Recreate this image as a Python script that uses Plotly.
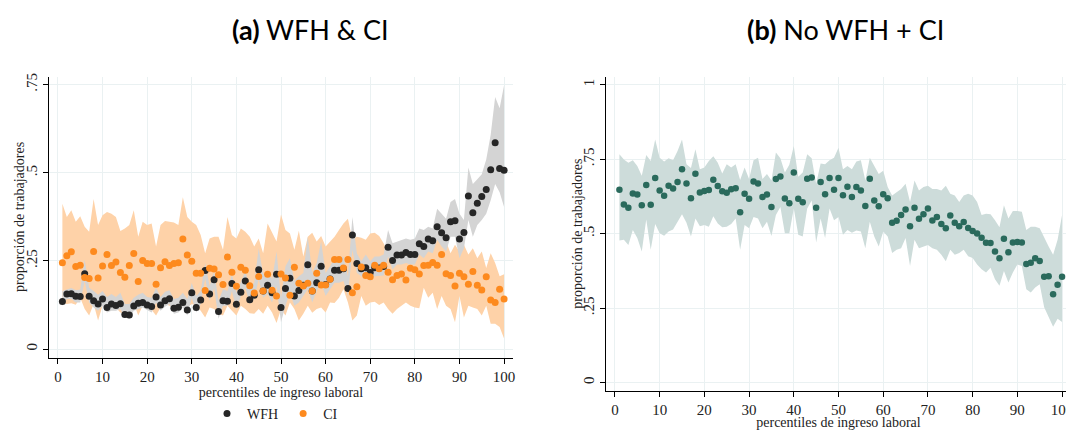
import plotly.graph_objects as go

percentiles = list(range(1, 101))

wfh = [0.135, 0.156, 0.157, 0.150, 0.149, 0.214, 0.150, 0.137, 0.128, 0.142,
       0.118, 0.128, 0.124, 0.129, 0.098, 0.097, 0.122, 0.130, 0.132, 0.125,
       0.121, 0.148, 0.125, 0.137, 0.143, 0.116, 0.119, 0.132, 0.111, 0.160,
       0.118, 0.139, 0.223, 0.156, 0.197, 0.107, 0.137, 0.136, 0.186, 0.127,
       0.161, 0.193, 0.140, 0.153, 0.225, 0.165, 0.181, 0.160, 0.212, 0.118,
       0.172, 0.201, 0.151, 0.166, 0.181, 0.239, 0.165, 0.188, 0.235, 0.183,
       0.199, 0.224, 0.224, 0.228, 0.172, 0.324, 0.243, 0.228, 0.231, 0.217,
       0.231, 0.230, 0.234, 0.289, 0.251, 0.267, 0.267, 0.274, 0.268, 0.268,
       0.299, 0.291, 0.312, 0.307, 0.347, 0.330, 0.316, 0.361, 0.364, 0.312,
       0.331, 0.434, 0.387, 0.414, 0.433, 0.453, 0.509, 0.585, 0.512, 0.507]
wfh_hi = [0.165, 0.170, 0.173, 0.167, 0.169, 0.254, 0.174, 0.165, 0.154, 0.165,
          0.148, 0.156, 0.148, 0.160, 0.128, 0.128, 0.146, 0.154, 0.160, 0.148,
          0.146, 0.174, 0.148, 0.163, 0.167, 0.142, 0.146, 0.160, 0.142, 0.188,
          0.151, 0.165, 0.244, 0.179, 0.221, 0.137, 0.170, 0.165, 0.212, 0.160,
          0.193, 0.221, 0.174, 0.188, 0.286, 0.212, 0.221, 0.198, 0.277, 0.146,
          0.235, 0.258, 0.193, 0.207, 0.216, 0.319, 0.216, 0.244, 0.305, 0.216,
          0.235, 0.258, 0.258, 0.263, 0.207, 0.375, 0.272, 0.249, 0.268, 0.249,
          0.263, 0.263, 0.268, 0.338, 0.300, 0.305, 0.310, 0.314, 0.310, 0.314,
          0.342, 0.338, 0.347, 0.342, 0.398, 0.384, 0.370, 0.417, 0.426, 0.384,
          0.366, 0.515, 0.468, 0.482, 0.496, 0.538, 0.608, 0.715, 0.683, 0.748]
wfh_lo = [0.123, 0.142, 0.142, 0.132, 0.132, 0.193, 0.132, 0.118, 0.109, 0.123,
          0.104, 0.109, 0.109, 0.114, 0.090, 0.086, 0.109, 0.114, 0.118, 0.111,
          0.104, 0.132, 0.109, 0.120, 0.128, 0.100, 0.104, 0.118, 0.095, 0.145,
          0.104, 0.128, 0.200, 0.137, 0.173, 0.086, 0.123, 0.123, 0.165, 0.111,
          0.151, 0.174, 0.128, 0.142, 0.198, 0.146, 0.156, 0.132, 0.179, 0.076,
          0.123, 0.160, 0.123, 0.132, 0.151, 0.170, 0.132, 0.165, 0.188, 0.151,
          0.170, 0.188, 0.188, 0.193, 0.151, 0.282, 0.216, 0.207, 0.207, 0.193,
          0.207, 0.207, 0.209, 0.263, 0.226, 0.240, 0.240, 0.244, 0.240, 0.240,
          0.268, 0.258, 0.277, 0.272, 0.310, 0.291, 0.277, 0.319, 0.319, 0.258,
          0.286, 0.366, 0.319, 0.352, 0.366, 0.384, 0.422, 0.468, 0.445, 0.403]

ci = [0.245, 0.265, 0.276, 0.234, 0.238, 0.203, 0.200, 0.277, 0.202, 0.236,
      0.268, 0.237, 0.247, 0.217, 0.204, 0.237, 0.271, 0.192, 0.251, 0.243,
      0.243, 0.184, 0.231, 0.248, 0.237, 0.243, 0.245, 0.312, 0.267, 0.249,
      0.215, 0.215, 0.166, 0.229, 0.227, 0.211, 0.183, 0.261, 0.218, 0.178,
      0.232, 0.224, 0.180, 0.159, 0.206, 0.165, 0.212, 0.167, 0.151, 0.213,
      0.202, 0.153, 0.232, 0.187, 0.179, 0.187, 0.165, 0.215, 0.182, 0.182,
      0.198, 0.254, 0.254, 0.230, 0.254, 0.160, 0.177, 0.233, 0.209, 0.205,
      0.238, 0.228, 0.238, 0.218, 0.197, 0.209, 0.213, 0.196, 0.229, 0.225,
      0.213, 0.237, 0.238, 0.246, 0.238, 0.268, 0.214, 0.209, 0.179, 0.215,
      0.205, 0.184, 0.220, 0.181, 0.168, 0.205, 0.139, 0.132, 0.170, 0.142]
ci_hi = [0.412, 0.375, 0.394, 0.361, 0.377, 0.347, 0.333, 0.426, 0.352, 0.380,
         0.389, 0.384, 0.375, 0.335, 0.342, 0.352, 0.394, 0.319, 0.361, 0.352,
         0.356, 0.291, 0.352, 0.363, 0.361, 0.359, 0.352, 0.431, 0.375, 0.361,
         0.352, 0.324, 0.272, 0.314, 0.319, 0.319, 0.282, 0.375, 0.324, 0.314,
         0.342, 0.333, 0.319, 0.291, 0.314, 0.272, 0.356, 0.328, 0.305, 0.382,
         0.338, 0.328, 0.282, 0.336, 0.263, 0.319, 0.330, 0.305, 0.321, 0.291,
         0.305, 0.319, 0.338, 0.356, 0.370, 0.310, 0.319, 0.316, 0.310, 0.328,
         0.330, 0.321, 0.300, 0.272, 0.277, 0.274, 0.282, 0.263, 0.258, 0.254,
         0.286, 0.296, 0.282, 0.319, 0.314, 0.328, 0.305, 0.272, 0.296, 0.277,
         0.296, 0.268, 0.286, 0.258, 0.277, 0.230, 0.272, 0.244, 0.207, 0.212]
ci_lo = [0.132, 0.128, 0.130, 0.126, 0.146, 0.114, 0.095, 0.128, 0.081, 0.123,
         0.114, 0.118, 0.117, 0.104, 0.100, 0.104, 0.130, 0.095, 0.123, 0.118,
         0.111, 0.095, 0.118, 0.128, 0.123, 0.118, 0.123, 0.142, 0.118, 0.128,
         0.123, 0.109, 0.090, 0.118, 0.114, 0.100, 0.095, 0.123, 0.109, 0.095,
         0.123, 0.114, 0.102, 0.100, 0.114, 0.100, 0.123, 0.104, 0.074, 0.114,
         0.095, 0.132, 0.114, 0.081, 0.100, 0.123, 0.103, 0.114, 0.118, 0.104,
         0.132, 0.131, 0.146, 0.170, 0.132, 0.081, 0.095, 0.151, 0.123, 0.132,
         0.134, 0.125, 0.132, 0.114, 0.100, 0.114, 0.123, 0.132, 0.123, 0.118,
         0.116, 0.174, 0.146, 0.160, 0.114, 0.151, 0.123, 0.114, 0.076, 0.151,
         0.090, 0.123, 0.118, 0.114, 0.095, 0.123, 0.072, 0.072, 0.063, 0.030]

nowfh = [0.647, 0.598, 0.587, 0.635, 0.631, 0.595, 0.663, 0.597, 0.687, 0.645,
         0.627, 0.661, 0.651, 0.673, 0.716, 0.668, 0.619, 0.701, 0.638, 0.643,
         0.646, 0.681, 0.660, 0.642, 0.637, 0.649, 0.652, 0.572, 0.634, 0.617,
         0.675, 0.668, 0.623, 0.631, 0.589, 0.683, 0.692, 0.618, 0.602, 0.705,
         0.617, 0.605, 0.684, 0.688, 0.587, 0.673, 0.632, 0.687, 0.647, 0.687,
         0.629, 0.657, 0.623, 0.656, 0.645, 0.593, 0.684, 0.611, 0.592, 0.632,
         0.619, 0.536, 0.543, 0.562, 0.581, 0.525, 0.587, 0.550, 0.565, 0.584,
         0.544, 0.556, 0.532, 0.518, 0.561, 0.536, 0.525, 0.539, 0.519, 0.509,
         0.500, 0.486, 0.469, 0.468, 0.440, 0.417, 0.483, 0.437, 0.470, 0.472,
         0.470, 0.398, 0.402, 0.417, 0.408, 0.355, 0.357, 0.296, 0.328, 0.355]
nowfh_hi = [0.766, 0.749, 0.738, 0.746, 0.727, 0.694, 0.764, 0.744, 0.816, 0.755,
            0.742, 0.753, 0.746, 0.777, 0.816, 0.733, 0.720, 0.783, 0.716, 0.722,
            0.744, 0.760, 0.738, 0.702, 0.733, 0.722, 0.733, 0.680, 0.722, 0.683,
            0.746, 0.755, 0.683, 0.700, 0.678, 0.772, 0.753, 0.705, 0.731, 0.794,
            0.691, 0.705, 0.766, 0.753, 0.667, 0.735, 0.733, 0.746, 0.755, 0.788,
            0.716, 0.727, 0.716, 0.742, 0.746, 0.678, 0.755, 0.727, 0.700, 0.711,
            0.656, 0.628, 0.639, 0.650, 0.667, 0.606, 0.678, 0.645, 0.656, 0.661,
            0.650, 0.650, 0.645, 0.661, 0.634, 0.628, 0.606, 0.628, 0.634, 0.628,
            0.606, 0.562, 0.567, 0.565, 0.545, 0.521, 0.595, 0.551, 0.576, 0.576,
            0.573, 0.512, 0.523, 0.523, 0.518, 0.485, 0.457, 0.429, 0.479, 0.562]
nowfh_lo = [0.477, 0.479, 0.462, 0.512, 0.485, 0.440, 0.547, 0.446, 0.532, 0.501,
            0.493, 0.507, 0.514, 0.540, 0.565, 0.536, 0.490, 0.551, 0.525, 0.529,
            0.523, 0.558, 0.534, 0.521, 0.523, 0.532, 0.551, 0.446, 0.529, 0.518,
            0.556, 0.551, 0.518, 0.540, 0.492, 0.562, 0.589, 0.501, 0.501, 0.584,
            0.496, 0.490, 0.584, 0.611, 0.470, 0.551, 0.485, 0.584, 0.545, 0.556,
            0.496, 0.512, 0.503, 0.510, 0.507, 0.451, 0.540, 0.490, 0.457, 0.507,
            0.490, 0.435, 0.446, 0.451, 0.485, 0.391, 0.479, 0.451, 0.457, 0.462,
            0.451, 0.446, 0.429, 0.407, 0.446, 0.429, 0.435, 0.446, 0.424, 0.418,
            0.396, 0.380, 0.369, 0.385, 0.347, 0.325, 0.374, 0.336, 0.369, 0.396,
            0.391, 0.313, 0.302, 0.319, 0.330, 0.253, 0.220, 0.187, 0.214, 0.203]

x_ticks = [0, 10, 20, 30, 40, 50, 60, 70, 80, 90, 100]
y1_ticks = [0, 0.25, 0.5, 0.75]
y1_labels = ["0", ".25", ".5", ".75"]
y2_ticks = [0, 0.25, 0.5, 0.75, 1]
y2_labels = ["0", ".25", ".5", ".75", "1"]

ORANGE = "#fd8a1e"
ORANGE_BAND = "#fed2a8"
BLACK = "#262626"
GRAY_BAND = "#d4d4d4"
TEAL = "#2a6a5c"
TEAL_BAND = "#cddcda"
GRID = "#eaf1f2"
SERIF = "Liberation Serif"

fig = go.Figure()

def band(x, hi, lo, color, xa, ya):
    fig.add_trace(go.Scatter(x=x, y=hi, mode="lines", line=dict(width=0, color=color),
                             showlegend=False, hoverinfo="skip", xaxis=xa, yaxis=ya))
    fig.add_trace(go.Scatter(x=x, y=lo, mode="lines", line=dict(width=0, color=color),
                             fill="tonexty", fillcolor=color, showlegend=False,
                             hoverinfo="skip", xaxis=xa, yaxis=ya))

band(percentiles, ci_hi, ci_lo, ORANGE_BAND, "x", "y")
band(percentiles, wfh_hi, wfh_lo, GRAY_BAND, "x", "y")
fig.add_trace(go.Scatter(x=percentiles, y=wfh, mode="markers", name="WFH",
                         marker=dict(color=BLACK, size=7), xaxis="x", yaxis="y"))
fig.add_trace(go.Scatter(x=percentiles, y=ci, mode="markers", name="CI",
                         marker=dict(color=ORANGE, size=7), xaxis="x", yaxis="y"))

band(percentiles, nowfh_hi, nowfh_lo, TEAL_BAND, "x2", "y2")
fig.add_trace(go.Scatter(x=percentiles, y=nowfh, mode="markers", name="No WFH + CI",
                         showlegend=False, marker=dict(color=TEAL, size=6.5),
                         xaxis="x2", yaxis="y2"))

# the figure is slightly wider than the window so the right panel is clipped like the original
W, H = 1075, 430
def px_x(p):
    return p / W
def px_y(p):
    return (H - p) / H

axis_common = dict(showline=True, linecolor="black", linewidth=1, ticks="outside",
                   ticklen=5, tickcolor="black", showgrid=True, gridcolor=GRID,
                   gridwidth=1, zeroline=False, automargin=False,
                   tickfont=dict(family=SERIF, size=15, color="#222"),
                   title_font=dict(family=SERIF, size=14, color="#222"))

ytitle_font = dict(family=SERIF, size=14, color="#222")
title_font = dict(family="Lato", size=27, color="black")

fig.update_layout(
    width=W, height=H,
    margin=dict(l=0, r=0, t=0, b=0),
    paper_bgcolor="white", plot_bgcolor="white",
    xaxis=dict(domain=[px_x(49), px_x(513)], range=[-2, 102], tickvals=x_ticks,
               anchor="y", title=dict(text="percentiles de ingreso laboral", standoff=2),
               **axis_common),
    yaxis=dict(domain=[px_y(363), px_y(78)], range=[-0.025, 0.772], tickvals=y1_ticks,
               ticktext=y1_labels, tickangle=-90, anchor="x", **axis_common),
    xaxis2=dict(domain=[px_x(606), px_x(1071)], range=[-2, 102], tickvals=x_ticks,
                anchor="y2", title=dict(text="percentiles de ingreso laboral", standoff=5),
                **axis_common),
    yaxis2=dict(domain=[px_y(397), px_y(78)], range=[-0.03, 1.026], tickvals=y2_ticks,
                ticktext=y2_labels, tickangle=-90, anchor="x2", **axis_common),
    showlegend=True,
    legend=dict(orientation="h", x=px_x(275), xanchor="center", y=px_y(420),
                yanchor="middle", font=dict(family=SERIF, size=14, color="#222"),
                bgcolor="rgba(0,0,0,0)", itemwidth=30, tracegroupgap=0,
                traceorder="normal"),
    annotations=[
        dict(text="<b>(a)</b> WFH &amp; CI", x=px_x(310), y=px_y(30), xref="paper",
             yref="paper", showarrow=False, xanchor="center", yanchor="middle",
             font=title_font),
        dict(text="<b>(b)</b> No WFH + CI", x=px_x(845), y=px_y(30), xref="paper",
             yref="paper", showarrow=False, xanchor="center", yanchor="middle",
             font=title_font),
        dict(text="proporción de trabajadores", x=px_x(20), y=px_y(220), xref="paper",
             yref="paper", showarrow=False, textangle=-90, xanchor="center",
             yanchor="middle", font=ytitle_font),
        dict(text="proporción de trabajadores", x=px_x(578), y=px_y(237), xref="paper",
             yref="paper", showarrow=False, textangle=-90, xanchor="center",
             yanchor="middle", font=ytitle_font),
    ],
)

fig.write_html("out.html", config={"displayModeBar": False},
               post_script="document.body.style.margin='0';document.body.style.overflow='hidden';")
